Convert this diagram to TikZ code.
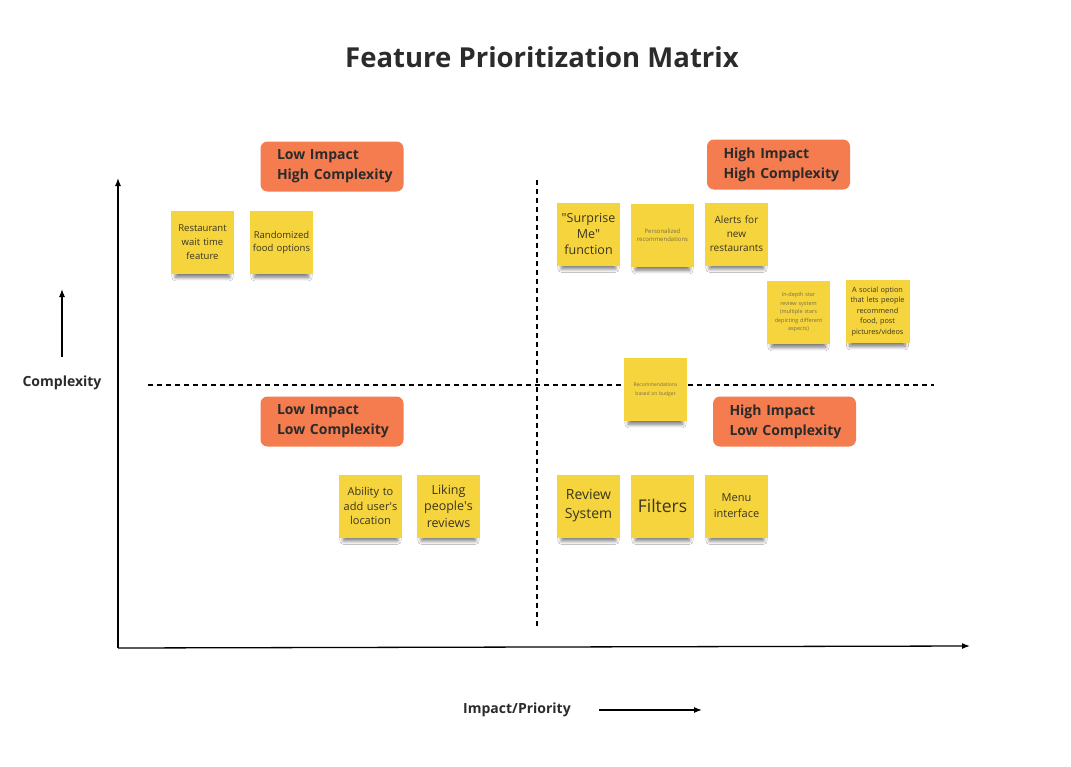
\documentclass[tikz,border=0pt]{standalone}
\usepackage{fontspec}
\setmainfont{Open Sans}
\usetikzlibrary{shadows.blur,arrows.meta}
\definecolor{sticky}{HTML}{F5D43E}
\definecolor{tagc}{HTML}{F47C4F}
\definecolor{ink}{HTML}{2B2B2B}
\definecolor{notetext}{HTML}{3A3520}
\definecolor{faint}{HTML}{7A6F45}
\newcommand{\tagtext}[2]{\hspace*{8pt}#1\\\hspace*{8pt}#2}
\tikzset{
  note/.style={fill=sticky, minimum width=63pt, minimum height=63pt, inner sep=2pt,
    text width=59pt, align=center, text=notetext,
    blur shadow={shadow xshift=0pt, shadow yshift=-9pt, shadow scale=0.86,
      shadow opacity=55, shadow blur radius=4pt, shadow blur steps=10}},
  tag/.style={fill=tagc, rounded corners=7pt, minimum width=143pt, minimum height=50pt,
    text width=126pt, align=left, text=ink, font=\bfseries\fontsize{14}{20}\selectfont},
  axis/.style={line width=1.3pt, -{Latex[length=8pt,width=6pt]}},
  divider/.style={line width=1.2pt, dash pattern=on 5pt off 4pt},
  lbl/.style={text=ink, font=\bfseries\fontsize{14}{17}\selectfont}
}
\begin{document}
\begin{tikzpicture}[x=1pt,y=-1pt]
\useasboundingbox[fill=white] (0,0) rectangle (1071,766);
\node[text=ink, font=\bfseries\fontsize{27.5}{32}\selectfont] (title) at (542,57) {Feature Prioritization Matrix};

% axes
\coordinate (origin) at (118,648);
\coordinate (ytop) at (118,178);
\coordinate (xend) at (970,646);
\draw[axis] (origin) -- (ytop);
\draw[axis] (origin) -- (xend);

% dividers
\coordinate (vtop) at (537,180);
\coordinate (vbot) at (537,628);
\coordinate (hl) at (148,385);
\coordinate (hr) at (934,385);
\draw[divider] (vtop) -- (vbot);
\draw[divider] (hl) -- (hr);

% axis labels
\node[lbl] (cplx) at (62,383) {Complexity};
\coordinate (ca0) at (62,357);
\coordinate (ca1) at (62,289);
\draw[axis, line width=1.2pt] (ca0) -- (ca1);
\node[lbl] (impact) at (517,710) {Impact/Priority};
\coordinate (ia0) at (599,710);
\coordinate (ia1) at (702,710);
\draw[axis, line width=1.2pt] (ia0) -- (ia1);

% quadrant tags
\node[tag] (lihc) at (332,166.5) {\tagtext{Low Impact}{High Complexity}};
\node[tag] (hihc) at (778.5,164.5) {\tagtext{High Impact}{High Complexity}};
\node[tag] (lilc) at (332,421.5) {\tagtext{Low Impact}{Low Complexity}};
\node[tag] (hilc) at (784.5,421.5) {\tagtext{High Impact}{Low Complexity}};

% sticky notes
\node[note, font=\fontsize{9.5}{14}\selectfont] (n1) at (202.5,242.5) {Restaurant\\wait time\\feature};
\node[note, font=\fontsize{9.5}{13}\selectfont] (n2) at (281.5,242.5) {Randomized\\food options};
\node[note, font=\fontsize{12.5}{16}\selectfont] (n3) at (588.5,234) {\textquotedbl Surprise\\Me\textquotedbl\\function};
\node[note, font=\fontsize{6}{8}\selectfont, text=faint] (n4) at (662.5,235.5) {Personalized\\recommendations};
\node[note, font=\fontsize{10}{14}\selectfont] (n5) at (736.5,234) {Alerts for\\new\\restaurants};
\node[note, font=\fontsize{5.5}{8.5}\selectfont, text=faint] (n6) at (798.5,312.5) {In-depth star\\review system\\(multiple stars\\depicting different\\aspects)};
\node[note, font=\fontsize{7.3}{10.5}\selectfont, text width=60pt] (n7) at (877.5,311.5) {A social option\\that lets people\\recommend\\food, post\\pictures/videos};
\node[note, font=\fontsize{5}{8.5}\selectfont, text=faint] (n8) at (655.5,389.5) {Recommendations\\based on budget};
\node[note, font=\fontsize{11}{14.5}\selectfont] (n9) at (370.5,506) {Ability to\\add user\textquotesingle s\\location};
\node[note, font=\fontsize{12.5}{16.5}\selectfont] (n10) at (448.5,506) {Liking\\people\textquotesingle s\\reviews};
\node[note, font=\fontsize{14}{19}\selectfont] (n11) at (588.5,506) {Review\\System};
\node[note, font=\fontsize{17.5}{20}\selectfont] (n12) at (662.5,506) {Filters};
\node[note, font=\fontsize{11}{16}\selectfont] (n13) at (736.5,506) {Menu\\interface};
\end{tikzpicture}
\end{document}
